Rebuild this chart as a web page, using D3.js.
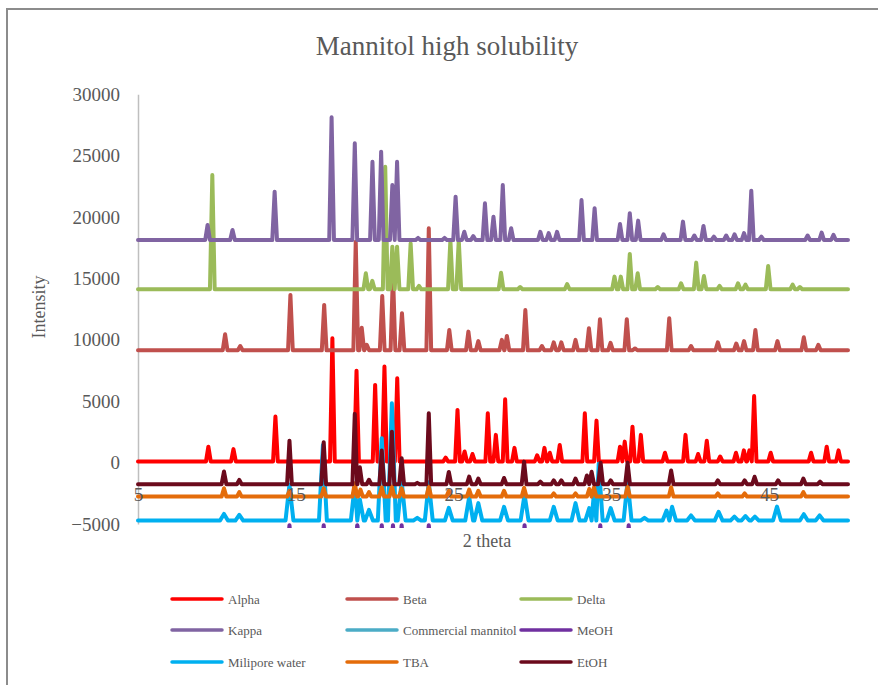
<!DOCTYPE html>
<html>
<head>
<meta charset="utf-8">
<script src="https://cdn.jsdelivr.net/npm/d3@7"></script>
<style>
  html, body { margin: 0; padding: 0; background: #fff; }
  svg { display: block; }
  text { font-family: "Liberation Serif", "Times New Roman", serif; fill: #595959; }
</style>
</head>
<body>
<svg id="chart" width="878" height="685"></svg>
<script>
// ---------------- DATA ----------------
const seriesNames = ["Alpha", "Beta", "Delta", "Kappa", "Commercial mannitol", "MeOH", "Milipore water", "TBA", "EtOH"];
const seriesColors = ["#FF0000", "#C0504D", "#9BBB59", "#8064A2", "#4BACC6", "#7030A0", "#00B0F0", "#E46C0A", "#6B0A1C"];
// background level of each trace
const baselines = [100, 9150, 14120, 18130, -8000, -7500, -4720, -2770, -1760];

// peaks: [2 theta, intensity at top]
const alphaPeaks = [[9.46,1300],[11.05,1100],[13.71,3750],[17.32,10130],[18.85,7490],[20.03,6330],[20.62,7820],[21.43,6870],[24.5,400],[25.25,4290],[25.7,900],[26.2,700],[27.17,4020],[27.68,2260],[28.27,5160],[28.86,1200],[30.3,600],[30.76,1200],[31.1,800],[31.73,1440],[33.32,4020],[34.06,3420],[35.55,1300],[35.85,1710],[36.34,2930],[36.87,2260],[38.4,800],[39.7,2260],[40.5,700],[41.05,1790],[41.9,500],[42.9,800],[43.4,1000],[43.75,1000],[44.05,5430],[45.1,800],[47.66,800],[48.65,1300],[49.4,1000]];
const betaPeaks = [[10.52,10450],[11.48,9500],[14.66,13660],[16.8,12840],[18.8,18000],[19.18,10990],[19.5,9600],[20.48,13570],[21.16,15420],[21.73,12170],[23.43,19090],[24.73,10800],[25.94,10670],[26.57,9900],[28.06,10000],[28.38,10320],[29.55,12430],[30.6,9500],[31.35,9800],[31.83,9800],[32.73,10000],[33.58,10940],[34.28,11680],[34.95,9750],[35.98,11680],[36.5,9300],[38.67,11760],[40.05,9500],[41.75,9800],[42.92,9700],[43.41,9900],[44.13,10800],[45.53,9900],[47.2,10210],[48.12,9600]];
const deltaPeaks = [[9.71,23430],[19.44,15420],[19.85,14800],[20.67,24100],[21.12,17590],[21.42,17590],[22.28,17860],[22.81,14400],[24.8,18130],[25.33,18130],[28.01,15470],[29.22,14300],[32.2,14550],[35.2,15150],[35.6,15150],[36.17,17000],[36.67,15420],[37.94,14300],[39.42,14600],[40.38,16290],[40.87,15200],[41.86,14400],[43.03,14600],[43.5,14500],[44.94,16020],[46.49,14500],[46.95,14300]];
const kappaPeaks = [[9.41,19360],[10.99,18950],[13.66,22070],[17.27,28130],[18.74,26010],[19.86,24510],[20.41,25330],[21.12,22610],[21.42,24510],[22.75,18300],[24.43,18300],[25.13,21660],[25.68,18810],[26.25,18450],[26.99,21120],[27.53,20030],[28.12,22610],[28.65,19090],[30.5,18800],[31.03,18700],[31.56,18800],[33.11,21390],[33.94,20720],[35.55,19440],[36.17,20310],[36.7,19710],[38.31,18600],[39.54,19630],[40.26,18500],[40.84,19280],[41.5,18400],[42.28,18500],[42.81,18600],[43.41,18700],[43.87,22150],[44.51,18400],[47.44,18500],[48.33,18730],[49.08,18550]];
const commercialPeaks = [[18.9,-5150]];
const meohPeaks = [[14.6,-5100],[16.77,-5100],[18.9,-5100],[20.45,-5100],[21.16,-5100],[21.71,-5100],[23.43,-5100],[29.5,-5100],[34.3,-5100],[36.1,-5100]];
const waterPeaks = [[10.45,-4180],[11.42,-4250],[14.6,-1800],[16.72,1440],[18.74,-1800],[19.06,-3000],[19.64,-3850],[20.45,1990],[21.09,4840],[21.71,-1500],[22.7,-4500],[23.43,-1600],[24.7,-3680],[25.99,-2800],[26.57,-3300],[28.2,-3600],[29.5,-2600],[31.35,-3600],[32.73,-3300],[33.6,-3700],[33.9,-2400],[34.2,-100],[34.96,-3700],[36.03,-1500],[37.1,-4500],[38.5,-3900],[38.85,-3600],[40.05,-4300],[41.8,-4000],[42.8,-4400],[43.5,-4350],[44.1,-4400],[45.5,-3580],[47.2,-4200],[48.2,-4300]];
const tbaPeaks = [[10.45,-2090],[11.42,-2400],[14.6,-2300],[16.77,-2100],[18.74,-1680],[19.1,-2200],[19.64,-2400],[20.45,-2000],[21.09,-1950],[21.71,-2100],[23.43,-1950],[24.7,-2300],[25.99,-2200],[26.57,-2300],[28.2,-2300],[29.47,-2050],[31.35,-2500],[32.73,-2500],[33.6,-2150],[33.9,-2000],[36.03,-1950],[38.79,-2000],[41.75,-2500],[43.45,-2500],[47.17,-2400]];
const etohPeaks = [[10.45,-730],[11.42,-1410],[14.6,1790],[16.77,1660],[18.74,3970],[19.06,-370],[19.64,-1400],[20.45,980],[21.09,2520],[21.71,360],[22.7,-1650],[23.43,4020],[24.7,-760],[25.99,-1140],[26.57,-1300],[28.2,-1250],[29.47,80],[30.5,-1550],[31.35,-1450],[31.83,-1450],[32.73,-1300],[33.45,-1050],[33.75,-750],[34.32,0],[34.96,-1450],[36.03,0],[38.79,-650],[41.75,-1450],[43.45,-1450],[44.08,-1150],[45.57,-1450],[47.17,-1300],[48.23,-1550]];
const peakHalfWidths = [0.15, 0.15, 0.15, 0.15, 0.15, 0.15, 0.25, 0.15, 0.15];

const xTicks = [5, 15, 25, 35, 45];
const yTicks = [-5000, 0, 5000, 10000, 15000, 20000, 25000, 30000];
const thetaRange = [5, 50];

const allPeaks = [alphaPeaks, betaPeaks, deltaPeaks, kappaPeaks, commercialPeaks, meohPeaks, waterPeaks, tbaPeaks, etohPeaks];

// ---------------- LAYOUT ----------------
const svg = d3.select("#chart");
const L = 138, R = 848, T = 94.3, B = 524;
const x = d3.scaleLinear().domain(thetaRange).range([L, R]);
const y = d3.scaleLinear().domain([-5000, 30000]).range([B, T]);

// outer border
svg.append("rect").attr("x", 7).attr("y", 9).attr("width", 900).attr("height", 700)
  .attr("fill", "none").attr("stroke", "#8C8C8C").attr("stroke-width", 2);

// title
svg.append("text").attr("x", 447).attr("y", 55).attr("text-anchor", "middle")
  .attr("font-size", 27).text("Mannitol high solubility");

// y axis
const yAxis = d3.axisLeft(y).tickValues(yTicks).tickSize(0).tickPadding(18).tickFormat(d3.format("d"));
const yg = svg.append("g").attr("transform", `translate(${L},0)`).call(yAxis);
yg.select(".domain").attr("stroke", "#BFBFBF").attr("stroke-width", 1.5);
yg.selectAll("text").attr("font-size", 19).attr("fill", "#595959")
  .style("font-family", '"Liberation Serif", serif');

// build polyline points from peak lists
function buildPoints(peaks, base, hw) {
  const pts = [[thetaRange[0], base]];
  const sorted = peaks.slice().sort((a, b) => a[0] - b[0]);
  sorted.forEach((p, i) => {
    const prev = sorted[i - 1], next = sorted[i + 1];
    let left = p[0] - hw, right = p[0] + hw;
    if (prev && prev[0] + hw > left) left = null;           // shared valley already added
    if (next && next[0] - hw < right) right = (p[0] + next[0]) / 2; // valley at midpoint
    if (left !== null) pts.push([left, base]);
    pts.push([p[0], p[1]]);
    pts.push([right, base]);
  });
  pts.push([thetaRange[1], base]);
  return pts;
}

// clip
svg.append("clipPath").attr("id", "plotclip").append("rect")
  .attr("x", L - 2).attr("y", T - 10).attr("width", R - L + 6).attr("height", B - T + 14);

const line = d3.line().x(d => x(d[0])).y(d => y(d[1]));
const plot = svg.append("g").attr("clip-path", "url(#plotclip)");
seriesNames.forEach((name, i) => {
  plot.append("path")
    .datum(buildPoints(allPeaks[i], baselines[i], peakHalfWidths[i]))
    .attr("d", line)
    .attr("fill", "none")
    .attr("stroke", seriesColors[i])
    .attr("stroke-width", 4)
    .attr("stroke-linejoin", "round")
    .attr("stroke-linecap", "round");
});

// x tick labels (axis crossing sits among the traces)
const xAxis = d3.axisBottom(x).tickValues(xTicks).tickSize(0).tickPadding(0).tickFormat(d3.format("d"));
const xg = svg.append("g").attr("transform", `translate(0,487)`).call(xAxis);
xg.select(".domain").remove();
xg.selectAll("text").attr("font-size", 19).attr("fill", "#595959").attr("dy", "0.71em")
  .style("font-family", '"Liberation Serif", serif');

// axis titles
svg.append("text").attr("x", 487).attr("y", 547).attr("text-anchor", "middle")
  .attr("font-size", 18).text("2 theta");
svg.append("text").attr("transform", "translate(45,307) rotate(-90)").attr("text-anchor", "middle")
  .attr("font-size", 18).text("Intensity");

// legend
const legCols = [172, 347, 521];
const legRows = [599, 630, 662];
seriesNames.forEach((name, i) => {
  const cx = legCols[i % 3], cy = legRows[Math.floor(i / 3)];
  const g = svg.append("g");
  g.append("line").attr("x1", cx).attr("x2", cx + 50).attr("y1", cy).attr("y2", cy)
    .attr("stroke", seriesColors[i]).attr("stroke-width", 3.5).attr("stroke-linecap", "round");
  g.append("text").attr("x", cx + 56).attr("y", cy + 5).attr("font-size", 13).text(name);
});
</script>
</body>
</html>
